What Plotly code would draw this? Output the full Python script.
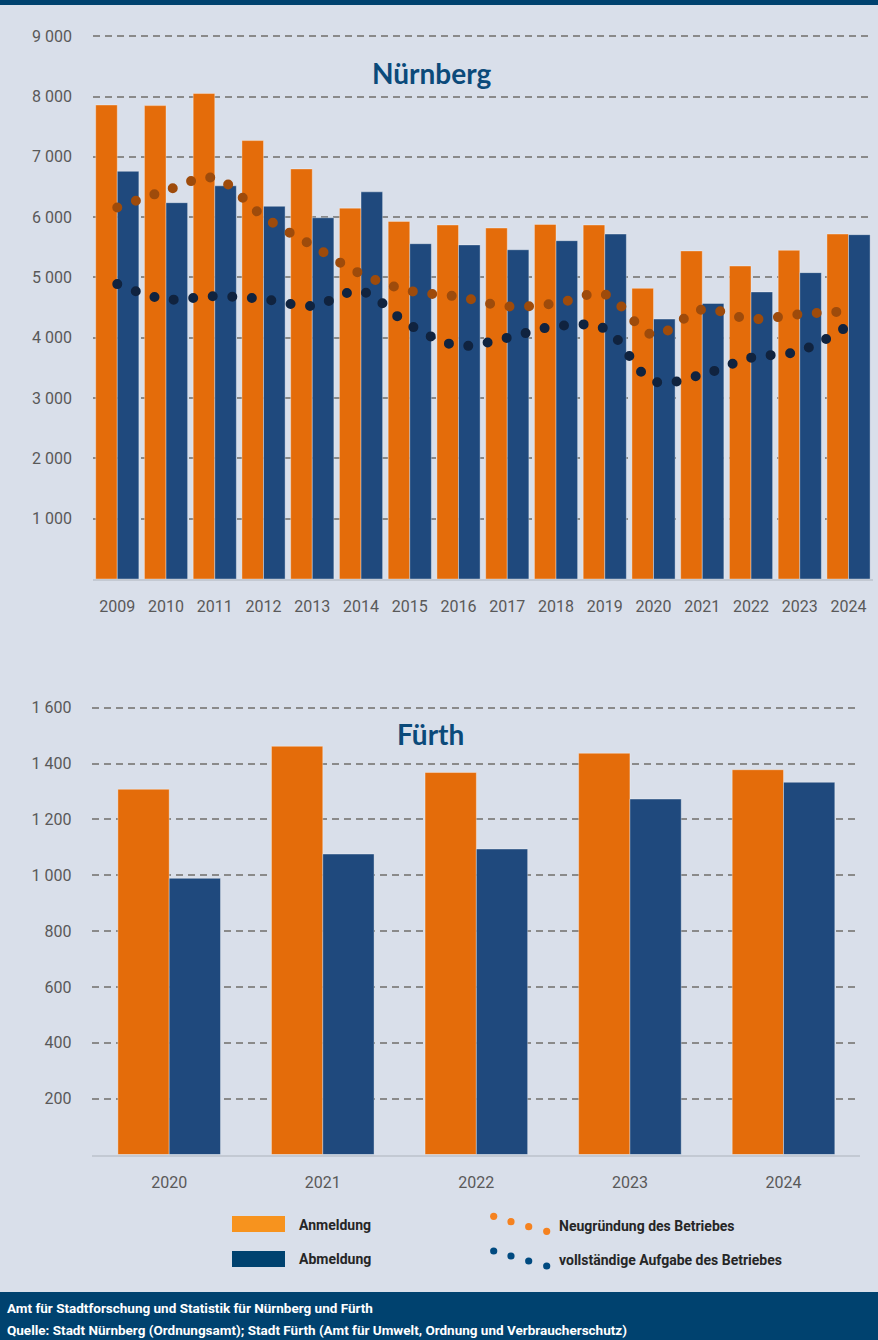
import plotly.graph_objects as go

# ---------------- data ----------------
years_nbg = [str(y) for y in range(2009, 2025)]
anmeldung_nbg = [7860, 7850, 8050, 7270, 6800, 6150, 5930, 5870, 5820, 5880, 5870, 4820, 5440, 5190, 5450, 5720]
abmeldung_nbg = [6760, 6240, 6520, 6180, 5990, 6420, 5560, 5540, 5460, 5610, 5720, 4310, 4570, 4760, 5080, 5710]
neugruendung_nbg = [6160, 6440, 6650, 6010, 5530, 5060, 4780, 4680, 4520, 4570, 4720, 4050, 4470, 4310, 4390, 4440]
aufgabe_nbg = [4890, 4640, 4690, 4640, 4530, 4770, 4210, 3870, 4000, 4190, 4150, 3280, 3390, 3670, 3780, 4200]

years_fue = ["2020", "2021", "2022", "2023", "2024"]
anmeldung_fue = [1308, 1462, 1368, 1437, 1378]
abmeldung_fue = [989, 1076, 1094, 1273, 1333]

ytick_vals_nbg = [1000, 2000, 3000, 4000, 5000, 6000, 7000, 8000, 9000]
ytick_text_nbg = ["1 000", "2 000", "3 000", "4 000", "5 000", "6 000", "7 000", "8 000", "9 000"]
ytick_vals_fue = [200, 400, 600, 800, 1000, 1200, 1400, 1600]
ytick_text_fue = ["200", "400", "600", "800", "1 000", "1 200", "1 400", "1 600"]

# ---------------- style ----------------
W, H = 878, 1340
BG = "#D9DFEA"
ORANGE = "#E46C0A"
BLUE = "#1F497D"
DOT_OR = "#9E4B0B"
DOT_NV = "#10233F"
TITLE_C = "#0B4A7A"
HEAD = "#00426F"
COND = "Roboto, Liberation Sans Narrow, sans-serif"
TICK_FONT = dict(family=COND, size=16, color="#595959")
EDGE = dict(color="rgba(255,255,255,0.35)", width=1)


def px(x):
    return x / W


def py(y):
    return 1 - y / H


fig = go.Figure()

# Nürnberg bars
fig.add_trace(go.Bar(x=years_nbg, y=anmeldung_nbg, name="Anmeldung", marker=dict(color=ORANGE, line=EDGE),
                     offset=-0.443, width=0.443, xaxis="x", yaxis="y"))
fig.add_trace(go.Bar(x=years_nbg, y=abmeldung_nbg, name="Abmeldung", marker=dict(color=BLUE, line=EDGE),
                     offset=0.0, width=0.443, xaxis="x", yaxis="y"))
# dotted smooth lines
fig.add_trace(go.Scatter(x=years_nbg, y=neugruendung_nbg, mode="lines", name="Neugründung des Betriebes",
                         line=dict(color=DOT_OR, width=10, dash="0px,19.6px", shape="spline", smoothing=1.0),
                         xaxis="x", yaxis="y"))
fig.add_trace(go.Scatter(x=years_nbg, y=aufgabe_nbg, mode="lines", name="vollständige Aufgabe des Betriebes",
                         line=dict(color=DOT_NV, width=10, dash="0px,19.6px", shape="spline", smoothing=1.0),
                         xaxis="x", yaxis="y"))

# Fürth bars
fig.add_trace(go.Bar(x=years_fue, y=anmeldung_fue, name="Anmeldung", marker=dict(color=ORANGE, line=EDGE),
                     offset=-0.334, width=0.334, xaxis="x2", yaxis="y2"))
fig.add_trace(go.Bar(x=years_fue, y=abmeldung_fue, name="Abmeldung", marker=dict(color=BLUE, line=EDGE),
                     offset=0.0, width=0.334, xaxis="x2", yaxis="y2"))

grid = dict(showgrid=True, gridcolor="#8A8A8A", gridwidth=1.8, griddash="7px,5px", zeroline=False)

fig.update_layout(
    width=W, height=H,
    margin=dict(l=0, r=0, t=0, b=0),
    paper_bgcolor=BG, plot_bgcolor=BG,
    showlegend=False,
    barmode="group",
    xaxis=dict(domain=[px(92.9), px(872.9)], type="category", showgrid=False, zeroline=False,
               showline=True, linecolor="#C3C9D3", linewidth=2, tickfont=TICK_FONT, ticks="",
               ticklabelstandoff=12, anchor="y"),
    yaxis=dict(domain=[py(579), py(24.2)], range=[0, 9200], tickvals=ytick_vals_nbg, ticktext=ytick_text_nbg,
               tickfont=TICK_FONT, ticks="", ticklabelstandoff=20, showline=False, anchor="x", **grid),
    xaxis2=dict(domain=[px(92.4), px(860.3)], type="category", showgrid=False, zeroline=False,
                showline=True, linecolor="#C3C9D3", linewidth=2, tickfont=TICK_FONT, ticks="",
                ticklabelstandoff=12, anchor="y2"),
    yaxis2=dict(domain=[py(1154.5), py(693.8)], range=[0, 1650], tickvals=ytick_vals_fue, ticktext=ytick_text_fue,
                tickfont=TICK_FONT, ticks="", ticklabelstandoff=20, showline=False, anchor="x2", **grid),
)

shapes = [
    dict(type="rect", xref="paper", yref="paper", x0=0, x1=1, y0=py(5), y1=1, fillcolor=HEAD, line_width=0),
    dict(type="rect", xref="paper", yref="paper", x0=0, x1=1, y0=0, y1=py(1292), fillcolor=HEAD, line_width=0),
    dict(type="rect", xref="paper", yref="paper", x0=px(232), x1=px(285), y0=py(1232), y1=py(1216),
         fillcolor="#F7931E", line_width=0),
    dict(type="rect", xref="paper", yref="paper", x0=px(232), x1=px(285), y0=py(1267), y1=py(1251),
         fillcolor="#00426F", line_width=0),
]
r = 3.6
for (cx, cy) in [(493.7, 1216.3), (511, 1221.7), (528.7, 1226.7), (546.7, 1231.3)]:
    shapes.append(dict(type="circle", xref="paper", yref="paper", x0=px(cx - r), x1=px(cx + r),
                       y0=py(cy + r), y1=py(cy - r), fillcolor="#F58220", line_width=0))
for (cx, cy) in [(493.7, 1251), (511, 1256), (528.7, 1261), (546.7, 1266)]:
    shapes.append(dict(type="circle", xref="paper", yref="paper", x0=px(cx - r), x1=px(cx + r),
                       y0=py(cy + r), y1=py(cy - r), fillcolor="#004A80", line_width=0))
fig.update_layout(shapes=shapes)

LEG_FONT = dict(family=COND, size=14, color="#262626")
FOOT_FONT = dict(family=COND, size=13.5, color="#FFFFFF")
TITLE_FONT = dict(family="Lato, Open Sans, sans-serif", size=28, color=TITLE_C)

ann = [
    dict(text="<b>Nürnberg</b>", x=px(431), y=py(73), font=TITLE_FONT),
    dict(text="<b>Fürth</b>", x=px(430), y=py(734), font=TITLE_FONT),
    dict(text="<b>Anmeldung</b>", x=px(297), y=py(1225), xanchor="left", font=LEG_FONT),
    dict(text="<b>Abmeldung</b>", x=px(297), y=py(1259), xanchor="left", font=LEG_FONT),
    dict(text="<b>Neugründung des Betriebes</b>", x=px(557), y=py(1226), xanchor="left", font=LEG_FONT),
    dict(text="<b>vollständige Aufgabe des Betriebes</b>", x=px(557), y=py(1260), xanchor="left", font=LEG_FONT),
    dict(text="<b>Amt für Stadtforschung und Statistik für Nürnberg und Fürth</b>", x=px(5), y=py(1308),
         xanchor="left", font=FOOT_FONT),
    dict(text="<b>Quelle: Stadt Nürnberg (Ordnungsamt); Stadt Fürth (Amt für Umwelt, Ordnung und Verbraucherschutz)</b>",
         x=px(5), y=py(1330), xanchor="left", font=FOOT_FONT),
]
for a in ann:
    a.update(xref="paper", yref="paper", showarrow=False, yanchor=a.get("yanchor", "middle"))
    a.setdefault("xanchor", "center")
fig.update_layout(annotations=ann)

post = ("document.body.style.margin='0';document.body.style.padding='0';"
        "document.documentElement.style.margin='0';"
        "var s=document.createElement('style');"
        "s.innerHTML='body{margin:0 !important;} .scatterlayer .js-line{stroke-linecap:round !important;}';"
        "document.head.appendChild(s);")
fig.write_html("out.html", post_script=post, config={"displayModeBar": False})
